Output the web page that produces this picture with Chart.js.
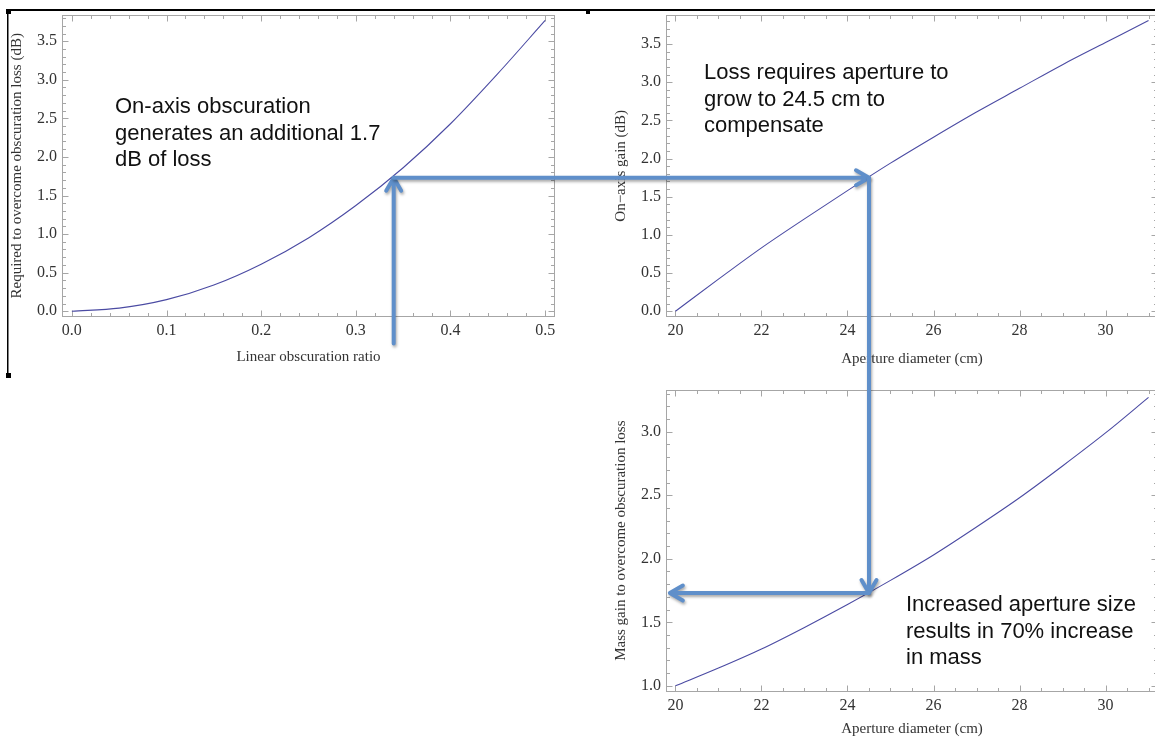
<!DOCTYPE html>
<html lang="en">
<head>
<meta charset="UTF-8">
<title>Obscuration loss and aperture growth</title>
<script src="https://cdn.jsdelivr.net/npm/chart.js@4.4.0/dist/chart.umd.min.js"></script>
<style>
    html, body {
        margin: 0;
        padding: 0;
        background: #fff;
    }
    body {
        position: relative;
        width: 1155px;
        height: 740px;
        overflow: hidden;
        font-family: "Liberation Sans", Arial, sans-serif;
    }
    canvas.plot {
        position: absolute;
    }
    #overlay {
        position: absolute;
        left: 0;
        top: 0;
        pointer-events: none;
    }
    .note {
        position: absolute;
        font-size: 22px;
        line-height: 26.5px;
        color: #111;
        white-space: nowrap;
    }
</style>
</head>
<body>
    <canvas id="lossChart" class="plot" width="580" height="375" style="left:0;top:0"></canvas>
    <canvas id="gainChart" class="plot" width="560" height="375" style="left:600px;top:0"></canvas>
    <canvas id="massChart" class="plot" width="560" height="365" style="left:600px;top:375px"></canvas>

    <div class="note" style="left:115px;top:93px">On-axis obscuration<br>generates an additional 1.7<br>dB of loss</div>
    <div class="note" style="left:704px;top:59px">Loss requires aperture to<br>grow to 24.5 cm to<br>compensate</div>
    <div class="note" style="left:906px;top:591px">Increased aperture size<br>results in 70% increase<br>in mass</div>

    <canvas id="overlay"></canvas>

<script>
    // values
    const obscRatio = [0, 0.05, 0.1, 0.15, 0.2, 0.25, 0.3, 0.35, 0.4, 0.45, 0.5];
    const obscLossDb = [0, 0.04, 0.15, 0.34, 0.61, 0.95, 1.37, 1.86, 2.43, 3.08, 3.77];

    const apertureCm = [20, 21, 22, 23, 24, 25, 26, 27, 28, 29, 30, 31];
    const gainDb = [0, 0.42, 0.83, 1.21, 1.58, 1.94, 2.28, 2.61, 2.92, 3.23, 3.52, 3.81];
    const massGain = [1.0, 1.14, 1.29, 1.46, 1.64, 1.83, 2.03, 2.25, 2.48, 2.73, 2.99, 3.27];

    // tick labels
    const ratioTicks = [0, 0.1, 0.2, 0.3, 0.4, 0.5];
    const dbTicks = [0, 0.5, 1, 1.5, 2, 2.5, 3, 3.5];
    const apertureTicks = [20, 22, 24, 26, 28, 30];
    const massTicks = [1, 1.5, 2, 2.5, 3];

    // the worked example the arrows follow
    const pickRatio = 0.34;
    const pickLossDb = 1.73;
    const pickAperture = 24.5;
    const pickMassGain = 1.73;

    const serif = '"Liberation Serif", "Times New Roman", serif';
    const tickFont = { family: serif, size: 16 };
    const titleFont = { family: serif, size: 15 };
    const ink = '#333';

    // Mathematica style frame: box on all four sides, ticks pointing inwards
    const framePlugin = {
        id: 'frame',
        beforeDatasetsDraw(chart, args, opts) {
            const { ctx, chartArea: a, scales: { x, y } } = chart;
            const L = Math.round(a.left) + 0.5, R = Math.round(a.right) - 0.5;
            const T = Math.round(a.top) + 0.5, B = Math.round(a.bottom) - 0.5;
            ctx.save();
            ctx.strokeStyle = opts.color;
            ctx.lineWidth = 1;
            ctx.strokeRect(L, T, R - L, B - T);
            ctx.beginPath();
            const marks = (scale, step, draw) => {
                const major = scale.ticks.map(t => t.value);
                for (let k = Math.ceil(scale.min / step - 1e-9); k * step <= scale.max + 1e-9; k++) {
                    const v = k * step;
                    const isMajor = major.some(m => Math.abs(m - v) < step / 10);
                    draw(Math.round(scale.getPixelForValue(v)) + 0.5, isMajor ? 6 : 3.5);
                }
            };
            marks(x, opts.minorX, (px, len) => {
                ctx.moveTo(px, B); ctx.lineTo(px, B - len);
                ctx.moveTo(px, T); ctx.lineTo(px, T + len);
            });
            marks(y, opts.minorY, (py, len) => {
                ctx.moveTo(L, py); ctx.lineTo(L + len, py);
                ctx.moveTo(R, py); ctx.lineTo(R - len, py);
            });
            ctx.stroke();
            ctx.restore();
        }
    };

    function makePlot(id, xs, ys, cfg) {
        return new Chart(document.getElementById(id), {
            type: 'line',
            data: {
                datasets: [{
                    data: xs.map((x, i) => ({ x: x, y: ys[i] })),
                    borderColor: '#4b4ba3',
                    borderWidth: 1.1,
                    pointRadius: 0,
                    cubicInterpolationMode: 'monotone',
                    fill: false
                }]
            },
            options: {
                responsive: false,
                animation: false,
                events: [],
                layout: { padding: cfg.padding },
                plugins: {
                    legend: { display: false },
                    tooltip: { enabled: false },
                    frame: { color: '#a6a6a6', minorX: cfg.minorX, minorY: cfg.minorY }
                },
                scales: {
                    x: {
                        type: 'linear',
                        min: cfg.xMin,
                        max: cfg.xMax,
                        afterBuildTicks: s => { s.ticks = cfg.xTicks.map(v => ({ value: v })); },
                        afterFit: s => { s.height = cfg.xHeight; },
                        grid: { display: false, drawTicks: false },
                        border: { display: false },
                        ticks: { font: tickFont, color: ink, padding: 4.5, maxRotation: 0, autoSkip: false, callback: cfg.xFmt },
                        title: { display: true, text: cfg.xTitle, font: titleFont, color: ink, padding: { top: 0, bottom: cfg.xTitlePad } }
                    },
                    y: {
                        type: 'linear',
                        min: cfg.yMin,
                        max: cfg.yMax,
                        afterBuildTicks: s => { s.ticks = cfg.yTicks.map(v => ({ value: v })); },
                        afterFit: s => { s.width = cfg.yWidth; },
                        grid: { display: false, drawTicks: false },
                        border: { display: false },
                        ticks: { font: tickFont, color: ink, padding: 5, autoSkip: false, callback: v => v.toFixed(1) },
                        title: { display: true, text: cfg.yTitle, font: titleFont, color: ink, padding: { top: cfg.yTitlePad, bottom: 0 } }
                    }
                }
            },
            plugins: [framePlugin]
        });
    }

    const lossChart = makePlot('lossChart', obscRatio, obscLossDb, {
        padding: { left: 0, top: 13, right: 25, bottom: 0 },
        xMin: -0.0104, xMax: 0.5104, xTicks: ratioTicks, xFmt: v => v.toFixed(1),
        yMin: -0.075, yMax: 3.845, yTicks: dbTicks,
        minorX: 0.02, minorY: 0.1,
        xHeight: 58, yWidth: 62, xTitlePad: 9, yTitlePad: 8,
        xTitle: 'Linear obscuration ratio',
        yTitle: 'Required to overcome obscuration loss (dB)'
    });

    const gainChart = makePlot('gainChart', apertureCm, gainDb, {
        padding: { left: 0, top: 13, right: 2, bottom: 0 },
        xMin: 19.78, xMax: 31.22, xTicks: apertureTicks, xFmt: v => String(v),
        yMin: -0.076, yMax: 3.886, yTicks: dbTicks,
        minorX: 0.5, minorY: 0.1,
        xHeight: 58, yWidth: 66, xTitlePad: 7, yTitlePad: 12,
        xTitle: 'Aperture diameter (cm)',
        yTitle: 'On\u2212axis gain (dB)'
    });

    const massChart = makePlot('massChart', apertureCm, massGain, {
        padding: { left: 0, top: 11.5, right: 2, bottom: 0 },
        xMin: 19.78, xMax: 31.22, xTicks: apertureTicks, xFmt: v => String(v),
        yMin: 0.954, yMax: 3.331, yTicks: massTicks,
        minorX: 0.5, minorY: 0.1,
        xHeight: 48.3, yWidth: 66, xTitlePad: 2, yTitlePad: 12,
        xTitle: 'Aperture diameter (cm)',
        yTitle: 'Mass gain to overcome obscuration loss'
    });

    // overlay: slide border and the blue arrows
    const overlay = document.getElementById('overlay');
    const dpr = window.devicePixelRatio || 1;
    overlay.width = 1155 * dpr;
    overlay.height = 740 * dpr;
    overlay.style.width = '1155px';
    overlay.style.height = '740px';
    const octx = overlay.getContext('2d');
    octx.scale(dpr, dpr);

    octx.fillStyle = '#000';
    octx.fillRect(7, 9, 1148, 2);
    octx.fillRect(7, 9, 1.5, 369);
    octx.fillRect(6, 9, 5, 5);
    octx.fillRect(586, 10, 4, 4);
    octx.fillRect(6, 373, 5, 5);

    function at(chart, xv, yv) {
        const c = chart.canvas;
        return [c.offsetLeft + chart.scales.x.getPixelForValue(xv),
                c.offsetTop + chart.scales.y.getPixelForValue(yv)];
    }

    function arrow(from, to) {
        const [x0, y0] = from, [x1, y1] = to;
        const ang = Math.atan2(y1 - y0, x1 - x0);
        const head = 15, spread = Math.PI / 6;
        octx.beginPath();
        octx.moveTo(x0, y0);
        octx.lineTo(x1, y1);
        octx.moveTo(x1 - head * Math.cos(ang - spread), y1 - head * Math.sin(ang - spread));
        octx.lineTo(x1, y1);
        octx.lineTo(x1 - head * Math.cos(ang + spread), y1 - head * Math.sin(ang + spread));
        octx.stroke();
    }

    octx.save();
    octx.strokeStyle = '#5f8fca';
    octx.lineWidth = 4;
    octx.lineCap = 'round';
    octx.lineJoin = 'round';
    octx.shadowColor = 'rgba(0, 0, 0, 0.35)';
    octx.shadowBlur = 3;
    octx.shadowOffsetX = 1;
    octx.shadowOffsetY = 2;

    const tail = at(lossChart, pickRatio, -0.42);
    const p1 = at(lossChart, pickRatio, pickLossDb);
    const p2 = [at(gainChart, pickAperture, 0)[0], p1[1]];
    const p3 = at(massChart, pickAperture, pickMassGain);
    const tip = at(massChart, 19.87, pickMassGain);
    arrow(tail, p1);
    arrow(p1, p2);
    arrow(p2, p3);
    arrow(p3, tip);
    octx.restore();
</script>
</body>
</html>
